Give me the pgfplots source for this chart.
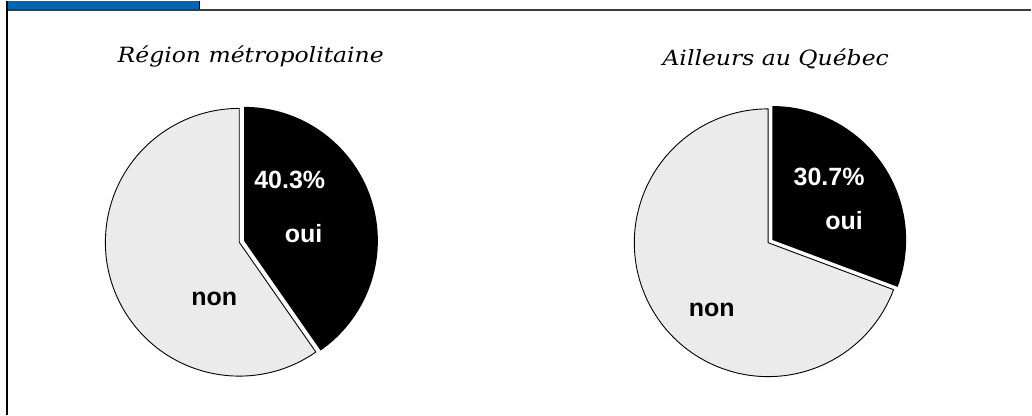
\documentclass[border=0pt]{standalone}
\usepackage{fontspec}
\setmainfont{Liberation Sans}
\newfontfamily\titlefont[FakeStretch=1.12]{DejaVu Serif}
\usepackage{pgfplots}
\usepackage{pgfplotstable}
\pgfplotsset{compat=1.18}
\usetikzlibrary{calc}

\definecolor{bandblue}{RGB}{0,102,179}
\definecolor{nongrey}{RGB}{235,235,235}
\definecolor{rulegrey}{RGB}{60,60,60}

% Share answering "oui" in each region; pie centres in page units (bp)
\pgfplotstableread{
region cx    cy    oui
0      239.5 172.5 40.3
1      769.0 172.0 30.7
}\pies

\pgfplotstablegetelem{0}{oui}\of\pies \let\ouiA\pgfplotsretval
\pgfplotstablegetelem{1}{oui}\of\pies \let\ouiB\pgfplotsretval
\pgfplotstablegetelem{0}{cx}\of\pies  \let\cxA\pgfplotsretval
\pgfplotstablegetelem{0}{cy}\of\pies  \let\cyA\pgfplotsretval
\pgfplotstablegetelem{1}{cx}\of\pies  \let\cxB\pgfplotsretval
\pgfplotstablegetelem{1}{cy}\of\pies  \let\cyB\pgfplotsretval

\newcommand{\piesize}{134}
\newcommand{\explode}{5}

% One pie: #1 = x of centre, #2 = y of centre, #3 = percentage "oui"
\newcommand{\drawpie}[3]{%
  % "non" slice
  \draw[fill=nongrey, draw=black, line width=0.9bp, line join=round]
    (axis cs:#1,#2) -- ++({90-3.6*#3}:\piesize)
    arc[start angle={90-3.6*#3}, end angle=-270, radius=\piesize] -- cycle;
  % "oui" slice, pulled out along its middle
  \fill[black]
    ($(axis cs:#1,#2)+({90-1.8*#3}:\explode)$) -- ++(90:\piesize)
    arc[start angle=90, end angle={90-3.6*#3}, radius=\piesize] -- cycle;
}

\tikzset{
  slicelabel/.style={anchor=base, font=\fontsize{25bp}{30bp}\selectfont\bfseries},
  pietitle/.style={anchor=base, font=\titlefont\itshape\fontsize{21bp}{25bp}\selectfont},
}

\begin{document}
\begin{tikzpicture}
\begin{axis}[
  width=1032bp, height=414bp, scale only axis,
  xmin=0, xmax=1032, ymin=0, ymax=414,
  hide axis, clip=false,
]
\path (axis cs:0,0) rectangle (axis cs:1032,414);
% header band
\fill[bandblue] (axis cs:7.5,405) rectangle (axis cs:200,414);
\draw[black, line width=1bp] (axis cs:200,414) -- (axis cs:200,405);
\draw[rulegrey, line width=2.2bp] (axis cs:7,404.8) -- (axis cs:1032,404.8);
\draw[black, line width=2bp] (axis cs:7,0) -- (axis cs:7,414);

\drawpie{\cxA}{\cyA}{\ouiA}
\drawpie{\cxB}{\cyB}{\ouiB}

% slice labels
\node[slicelabel, text=white] at (axis cs:290,226.7) {\ouiA\%};
\node[slicelabel, text=white] at (axis cs:304,172) {oui};
\node[slicelabel] at (axis cs:214.5,109) {non};

\node[slicelabel, text=white] at (axis cs:830,229.7) {\ouiB\%};
\node[slicelabel, text=white] at (axis cs:845,185.7) {oui};
\node[slicelabel] at (axis cs:712.5,98) {non};

% pie titles
\node[pietitle] at (axis cs:251,352.5) {Région métropolitaine};
\node[pietitle] at (axis cs:776.5,349) {Ailleurs au Québec};
\end{axis}
\end{tikzpicture}
\end{document}
